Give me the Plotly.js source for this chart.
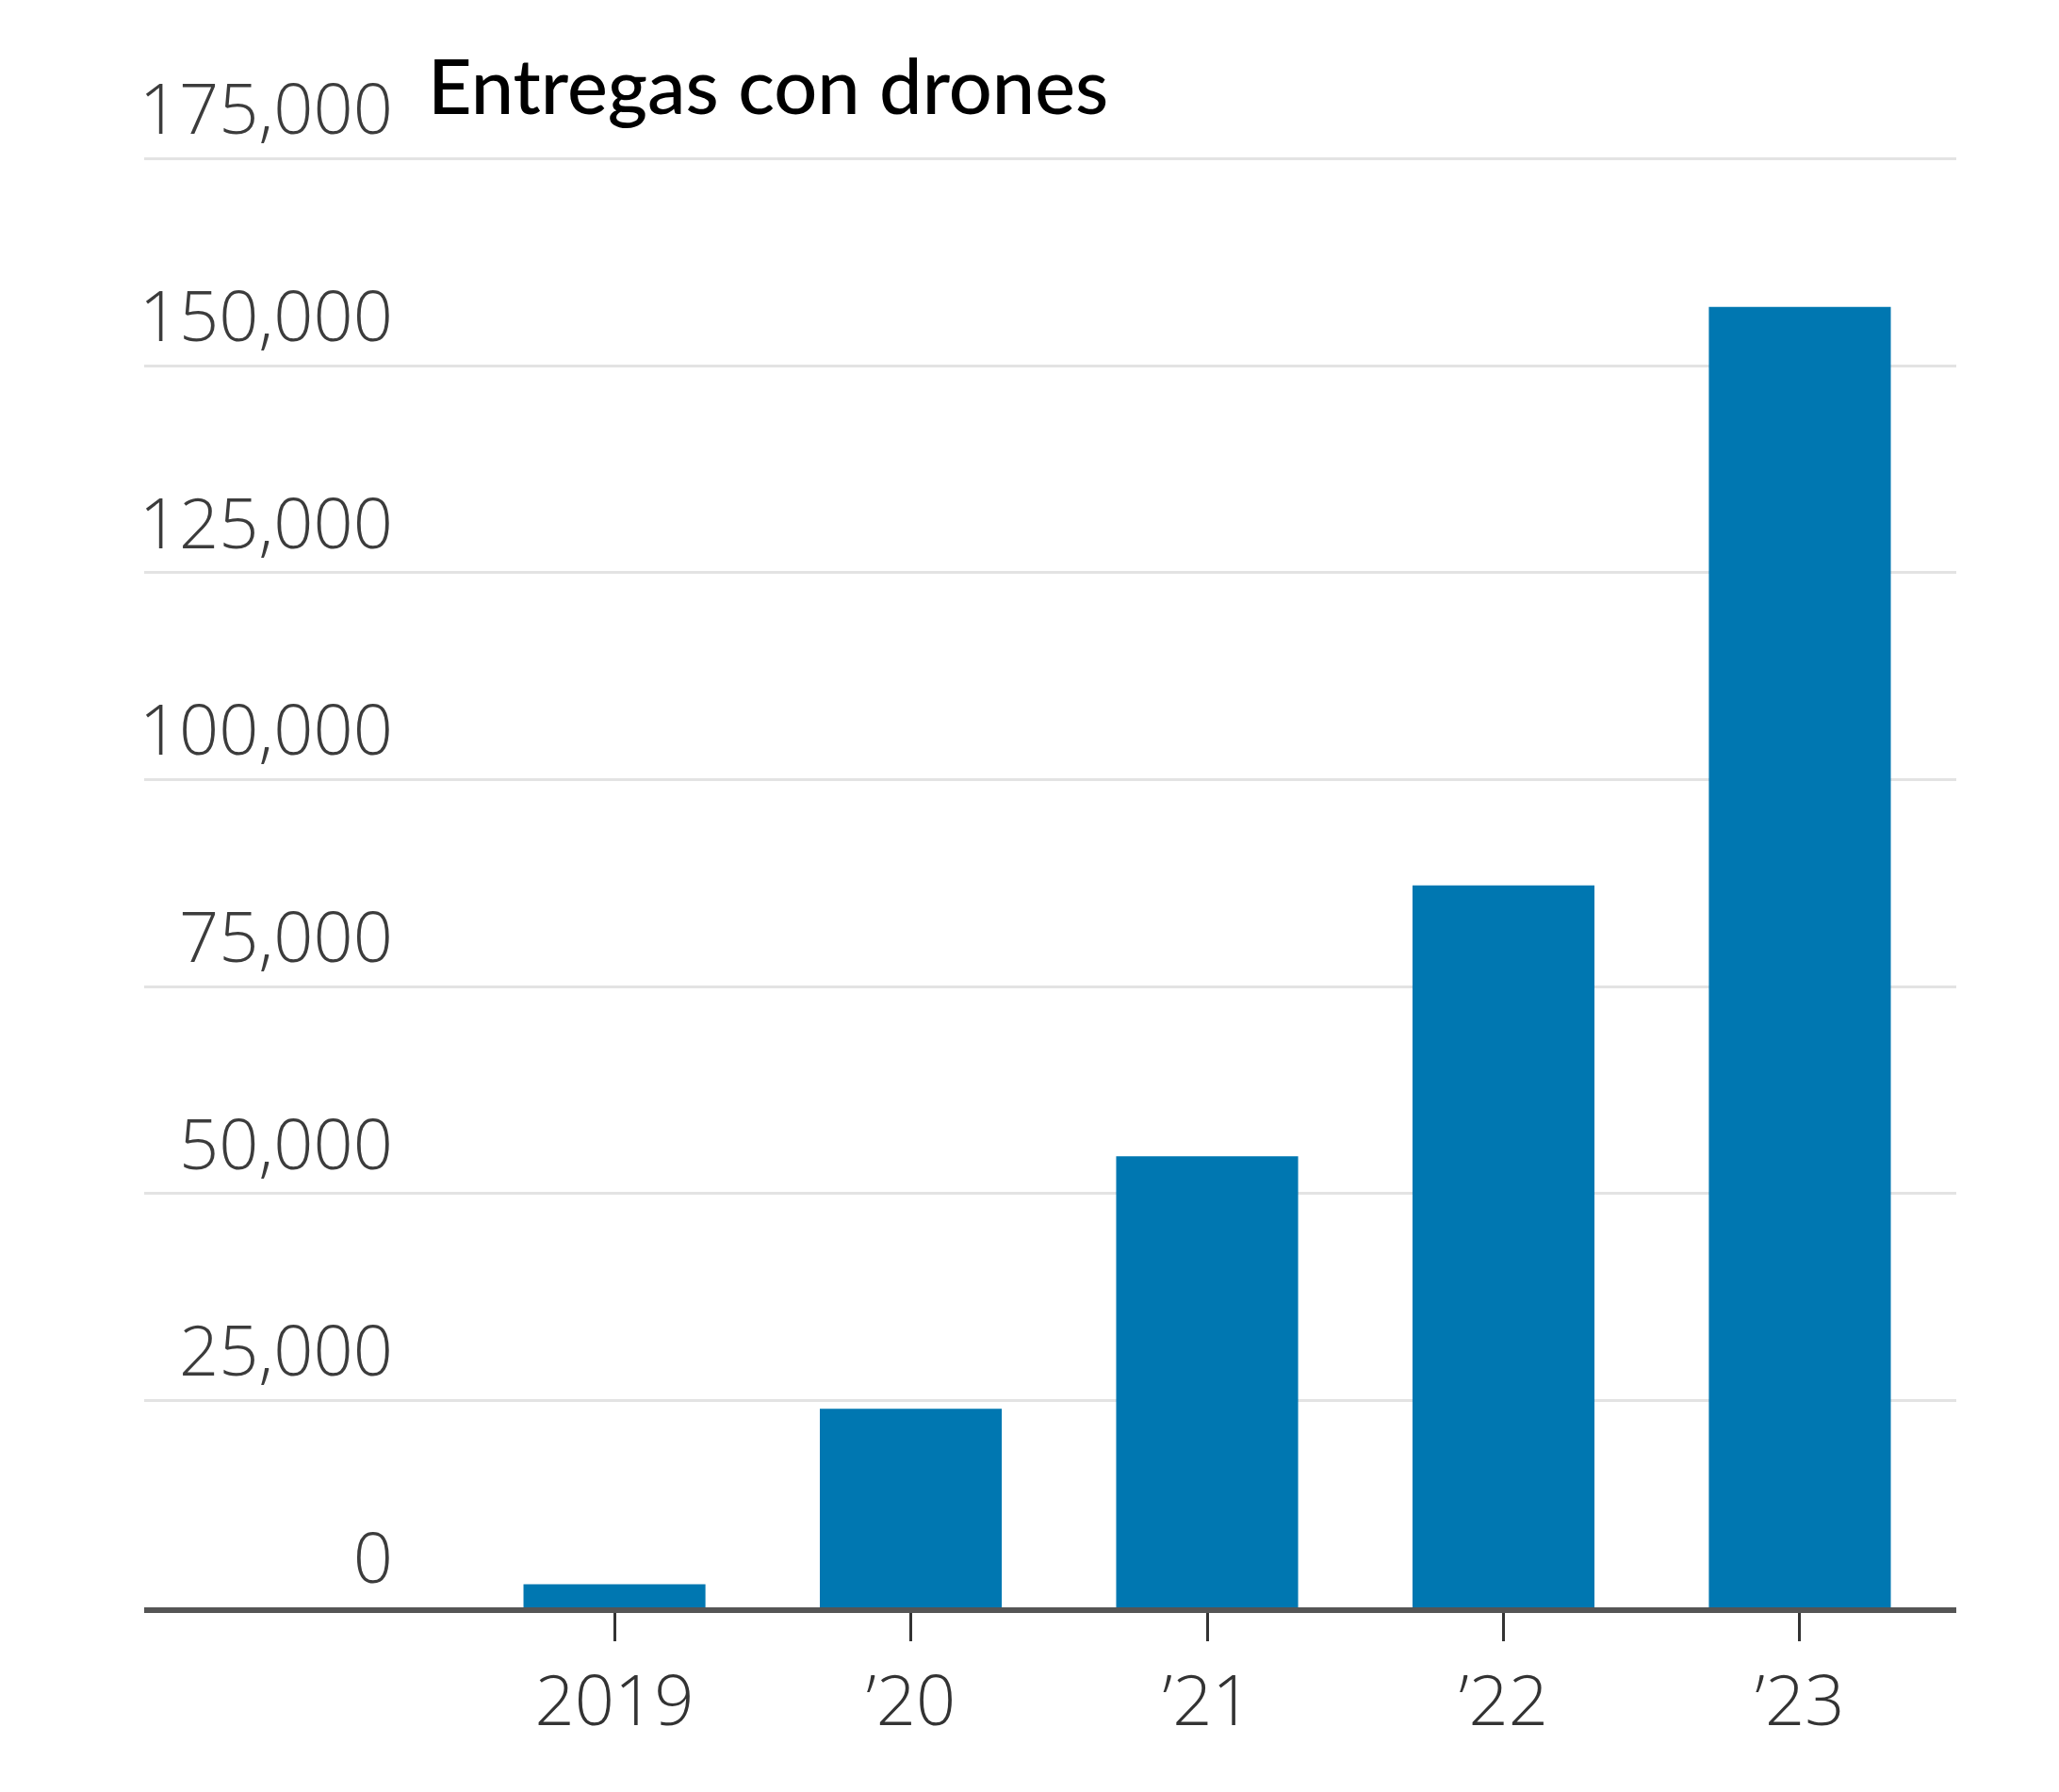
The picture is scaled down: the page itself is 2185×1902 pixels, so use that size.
<!DOCTYPE html>
<html>
<head>
<meta charset="utf-8">
<script src="https://cdn.plot.ly/plotly-3.0.1.min.js"></script>
<style>
   html, body { margin: 0; padding: 0; background: #fff; }
   #canvas { width: 2185px; height: 1902px; }
</style>
</head>
<body>
<div id="canvas"></div>
<script>
// Drone deliveries per year
const years = ['2019', '’20', '’21', '’22', '’23'];
const deliveries = [2800, 24000, 54500, 87200, 157100];
const yTicks = [0, 25000, 50000, 75000, 100000, 125000, 150000, 175000];

const tickFamily = 'Open Sans, DejaVu Sans Condensed, sans-serif';

const traces = [{
   type: 'bar',
   x: years,
   y: deliveries,
   marker: { color: '#0077b1', line: { width: 0 } },
   hoverinfo: 'skip'
}];

const layout = {
   width: 2185,
   height: 1902,
   margin: { t: 164, b: 196, l: 153, r: 109 },
   paper_bgcolor: '#ffffff',
   plot_bgcolor: '#ffffff',
   showlegend: false,
   bargap: 0.386,
   title: {
      text: 'Entregas con drones',
      font: { family: 'Lato, sans-serif', size: 81, weight: 500, color: '#000000' },
      xref: 'container', x: 0.2078, xanchor: 'left',
      yref: 'container', y: 0.966, yanchor: 'top'
   },
   xaxis: {
      type: 'category',
      range: [-1.587, 4.528],
      showgrid: false,
      showline: true,
      linecolor: '#555555',
      linewidth: 6,
      ticks: 'outside',
      ticklen: 30,
      tickwidth: 3,
      tickcolor: '#333333',
      ticklabelstandoff: 0,
      tickfont: { family: tickFamily, size: 74, weight: 300, color: '#333333' },
      fixedrange: true
   },
   yaxis: {
      range: [0, 175500],
      tickvals: yTicks,
      tickformat: ',d',
      showgrid: true,
      gridcolor: '#e3e3e3',
      gridwidth: 3,
      zeroline: false,
      showline: false,
      ticks: '',
      ticklabelposition: 'outside top',
      ticklabelstandoff: -265,
      tickfont: { family: tickFamily, size: 74, weight: 300, color: '#3c3c3c' },
      fixedrange: true
   }
};

Plotly.newPlot('canvas', traces, layout, { displayModeBar: false, staticPlot: true });
</script>
</body>
</html>
